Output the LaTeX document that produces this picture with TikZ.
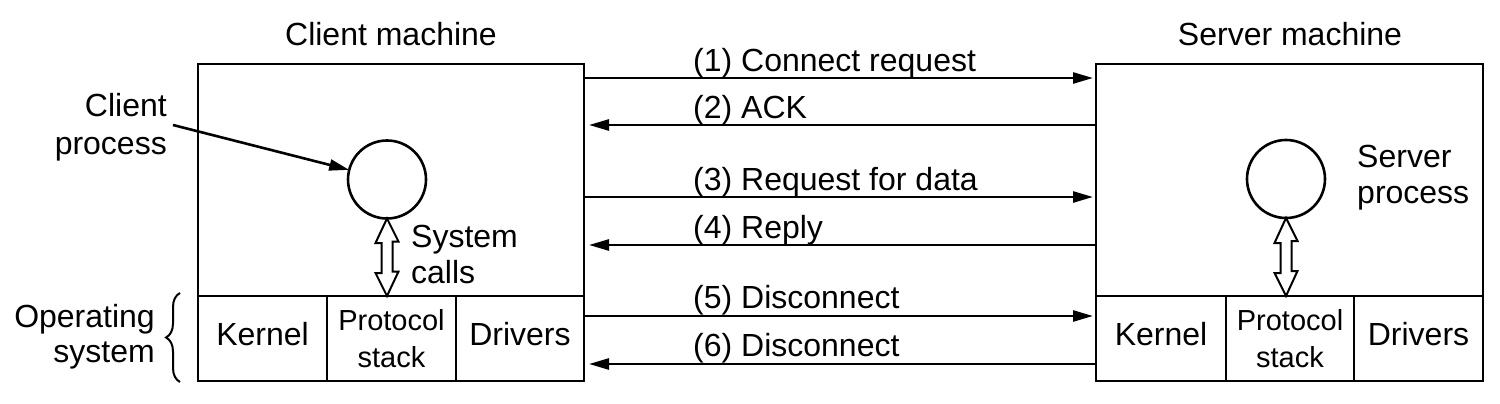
\documentclass[tikz,border=0pt]{standalone}
\usepackage{fontspec}
\setmainfont{Liberation Sans}
\usetikzlibrary{arrows.meta,decorations.pathreplacing,calc}
\begin{document}
\begin{tikzpicture}[x=1pt,y=-1pt,
  box/.style={draw,line width=2.6pt,inner sep=0pt,outer sep=0pt},
  cell/.style={box,minimum height=85pt},
  big/.style={font=\fontsize{32}{37}\selectfont},
  small/.style={font=\fontsize{29}{37}\selectfont},
  txt/.style={big,inner sep=0pt,anchor=base},
  proc/.style={draw,circle,line width=2.6pt,minimum size=78pt,inner sep=0pt,outer sep=0pt},
  msg/.style={line width=2.6pt,-{Triangle[length=20pt,width=11pt]}},
  lab/.style={big,inner sep=0pt,anchor=base west},
  dbl/.style={draw,line width=2pt,fill=white,line join=miter},
]
\useasboundingbox (0,0) rectangle (1500,404);

% client machine
\node[box,minimum width=386pt,minimum height=232pt] (cup) at (391,180) {};
\node[cell,minimum width=129pt] (ck) at (262.5,338.5) {};
\node[cell,minimum width=129pt] (cp) at (391.5,338.5) {};
\node[cell,minimum width=128pt] (cd) at (520,338.5) {};
\node[proc] (cc) at (387,179.5) {};
\node[txt] (ctitle) at (391,46) {Client machine};
\node[txt] (ckt) at (262.5,345) {Kernel};
\node[txt,small] (cpt1) at (391.5,330) {Protocol};
\node[txt,small] (cpt2) at (391.5,367) {stack};
\node[txt] (cdt) at (520,345) {Drivers};

% server machine
\node[box,minimum width=387pt,minimum height=232pt] (sup) at (1289.5,180) {};
\node[cell,minimum width=130pt] (sk) at (1161,338.5) {};
\node[cell,minimum width=128pt] (sp) at (1290,338.5) {};
\node[cell,minimum width=129pt] (sd) at (1418.5,338.5) {};
\node[proc] (sc) at (1286,179) {};
\node[txt] (stitle) at (1290,46) {Server machine};
\node[txt] (skt) at (1161,345) {Kernel};
\node[txt,small] (spt1) at (1290,330) {Protocol};
\node[txt,small] (spt2) at (1290,367) {stack};
\node[txt] (sdt) at (1418.5,345) {Drivers};

% side labels
\node[txt,anchor=base east] (cpl1) at (167,117) {Client};
\node[txt,anchor=base east] (cpl2) at (167,154) {process};
\coordinate (cpa) at (173,125);
\draw[msg] (cpa) -- (cc);
\node[txt,anchor=base west] (spl1) at (1357,167) {Server};
\node[txt,anchor=base west] (spl2) at (1357,203) {process};
\node[txt,anchor=base west] (sysl1) at (411,247) {System};
\node[txt,anchor=base west] (sysl2) at (411,283) {calls};
\node[txt,anchor=base east] (osl1) at (155,327) {Operating};
\node[txt,anchor=base east] (osl2) at (155,362) {system};
\draw[line width=2pt,decorate,decoration={brace,amplitude=14pt}]
  (180,382) -- (180,293);

% system-call double arrows
\foreach \c/\b in {cc/cp,sc/sp}{
  \draw[dbl] (\c.south)
    -- ++(11.5,23) -- ++(-6,0) -- ++(0,30) -- ++(6,0)
    -- ($(\c.south |- \b.north)$)
    -- ++(-11.5,-23) -- ++(6,0) -- ++(0,-30) -- ++(-6,0) -- cycle;
}

% messages
\draw[msg,shorten >=3pt] (cup.east |- 0,78) -- (sup.west |- 0,78);
\draw[msg,shorten >=5pt] (sup.west |- 0,125) -- (cup.east |- 0,125);
\draw[msg,shorten >=3pt] (cup.east |- 0,197) -- (sup.west |- 0,197);
\draw[msg,shorten >=5pt] (sup.west |- 0,245) -- (cup.east |- 0,245);
\draw[msg,shorten >=3pt] (cd.east |- 0,316) -- (sk.west |- 0,316);
\draw[msg,shorten >=5pt] (sk.west |- 0,364) -- (cd.east |- 0,364);
\node[lab] (m1) at (693,71) {(1) Connect request};
\node[lab] (m2) at (693,118) {(2) ACK};
\node[lab] (m3) at (693,190) {(3) Request for data};
\node[lab] (m4) at (693,238) {(4) Reply};
\node[lab] (m5) at (693,308) {(5) Disconnect};
\node[lab] (m6) at (693,356) {(6) Disconnect};
\end{tikzpicture}
\end{document}
